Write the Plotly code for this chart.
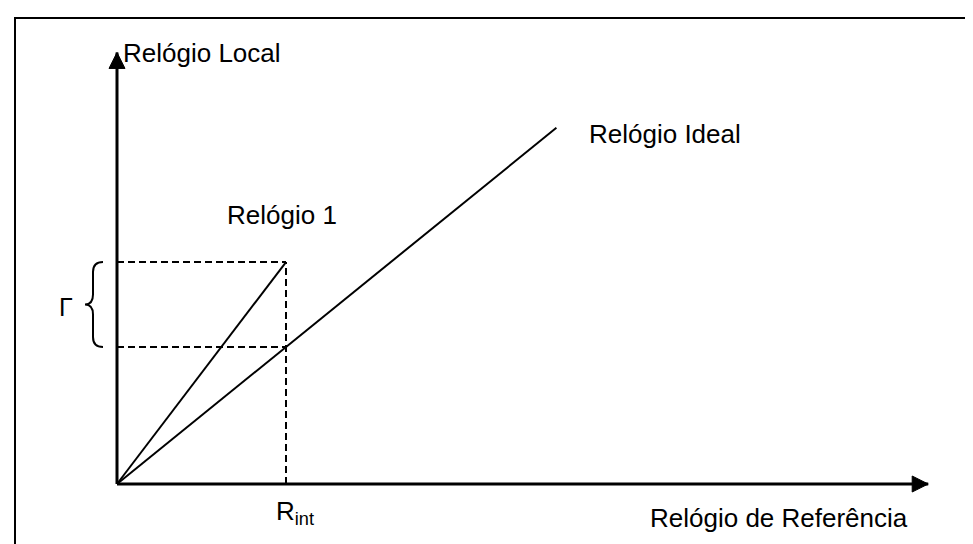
import plotly.graph_objects as go

# ---------------- data (diagram units: reference clock vs local clock) ----------------
ideal_ref = [0.0, 2.6]      # Relógio Ideal: local = reference
ideal_local = [0.0, 2.6]
clock1_ref = [0.0, 1.0]     # Relógio 1: runs faster
clock1_local = [0.0, 1.62]
r_int = 1.0                 # R_int on the reference axis
gamma_low = 1.0             # ideal clock reading at R_int
gamma_high = 1.62           # clock 1 reading at R_int
x_axis_end = 4.8
y_axis_end = 3.15

y_title = "Relógio Local"
x_title = "Relógio de Referência"
ideal_name = "Relógio Ideal"
clock1_name = "Relógio 1"
rint_label = "R<sub>int</sub>"
gamma_label = "Γ"

# ---------------- layout helpers ----------------
W, H = 973, 544
X0_PX, Y0_PX = 109, 476      # origin position in pixels
PX_PER_X, PX_PER_Y = 169, 137
x_range = [-X0_PX / PX_PER_X, (W - X0_PX) / PX_PER_X]
y_range = [-(H - Y0_PX) / PX_PER_Y, Y0_PX / PX_PER_Y]


def px(xp):
    return xp / W


def py(yp):
    return 1 - yp / H


FONT = dict(family="Liberation Sans, Arial, sans-serif", size=26, color="black")

fig = go.Figure()

# axes lines
fig.add_trace(go.Scatter(x=[0, x_axis_end], y=[0, 0], mode="lines",
                         line=dict(color="black", width=3), hoverinfo="skip"))
fig.add_trace(go.Scatter(x=[0, 0], y=[0, y_axis_end], mode="lines",
                         line=dict(color="black", width=3), hoverinfo="skip"))

# solid lines
fig.add_trace(go.Scatter(x=ideal_ref, y=ideal_local, mode="lines",
                         line=dict(color="black", width=2), name=ideal_name,
                         hoverinfo="skip"))
fig.add_trace(go.Scatter(x=clock1_ref, y=clock1_local, mode="lines",
                         line=dict(color="black", width=2), name=clock1_name,
                         hoverinfo="skip"))

# dashed guide lines
fig.add_trace(go.Scatter(
    x=[0, r_int, None, 0, r_int, None, r_int, r_int],
    y=[gamma_high, gamma_high, None, gamma_low, gamma_low, None, 0, gamma_high],
    mode="lines", line=dict(color="black", width=2, dash="7px,4px"),
    hoverinfo="skip"))

# arrowheads (filled triangles at the axis ends)
head_len_x = 16 / PX_PER_X
head_half_y = 8 / PX_PER_Y
head_len_y = 16 / PX_PER_Y
head_half_x = 8 / PX_PER_X
x_head = (f"M {x_axis_end},0 L {x_axis_end - head_len_x},{head_half_y} "
          f"L {x_axis_end - head_len_x},{-head_half_y} Z")
y_head = (f"M 0,{y_axis_end} L {head_half_x},{y_axis_end - head_len_y} "
          f"L {-head_half_x},{y_axis_end - head_len_y} Z")

annotations = [
    dict(x=px(113), y=py(45), xref="paper", yref="paper", text=y_title,
         xanchor="left", yanchor="middle", showarrow=False, font=FONT),
    dict(x=px(579), y=py(126), xref="paper", yref="paper", text=ideal_name,
         xanchor="left", yanchor="middle", showarrow=False, font=FONT),
    dict(x=px(217), y=py(207), xref="paper", yref="paper", text=clock1_name,
         xanchor="left", yanchor="middle", showarrow=False, font=FONT),
    dict(x=px(902), y=py(510), xref="paper", yref="paper", text=x_title,
         xanchor="right", yanchor="middle", showarrow=False, font=FONT),
    dict(x=px(266), y=py(504), xref="paper", yref="paper", text=rint_label,
         xanchor="left", yanchor="middle", showarrow=False, font=FONT),
    dict(x=px(58), y=py(299), xref="paper", yref="paper", text=gamma_label,
         xanchor="center", yanchor="middle", showarrow=False,
         font=dict(family=FONT["family"], size=25, color="black")),
]

# brace spanning gamma (built from the data bounds)
bx_out = (95 - X0_PX) / PX_PER_X
bx_mid = (85 - X0_PX) / PX_PER_X
bx_tip = (77 - X0_PX) / PX_PER_X
curl = 10 / PX_PER_Y
g_mid = (gamma_low + gamma_high) / 2
brace_path = (
    f"M {bx_out},{gamma_high} Q {bx_mid},{gamma_high} {bx_mid},{gamma_high - curl} "
    f"L {bx_mid},{g_mid + curl} Q {bx_mid},{g_mid} {bx_tip},{g_mid} "
    f"Q {bx_mid},{g_mid} {bx_mid},{g_mid - curl} "
    f"L {bx_mid},{gamma_low + curl} Q {bx_mid},{gamma_low} {bx_out},{gamma_low}"
)

shapes = [
    dict(type="path", path=brace_path, xref="x", yref="y",
         line=dict(color="black", width=2)),
    dict(type="path", path=x_head, xref="x", yref="y", fillcolor="black",
         line=dict(color="black", width=1)),
    dict(type="path", path=y_head, xref="x", yref="y", fillcolor="black",
         line=dict(color="black", width=1)),
    dict(type="rect", xref="paper", yref="paper", x0=px(7), x1=1.05,
         y0=-0.05, y1=py(10), line=dict(color="black", width=2)),
]

fig.update_layout(
    width=W, height=H,
    margin=dict(l=0, r=0, t=0, b=0),
    paper_bgcolor="white", plot_bgcolor="white",
    showlegend=False,
    xaxis=dict(range=x_range, visible=False, fixedrange=True),
    yaxis=dict(range=y_range, visible=False, fixedrange=True),
    annotations=annotations,
    shapes=shapes,
)

fig.write_html("out.html")
